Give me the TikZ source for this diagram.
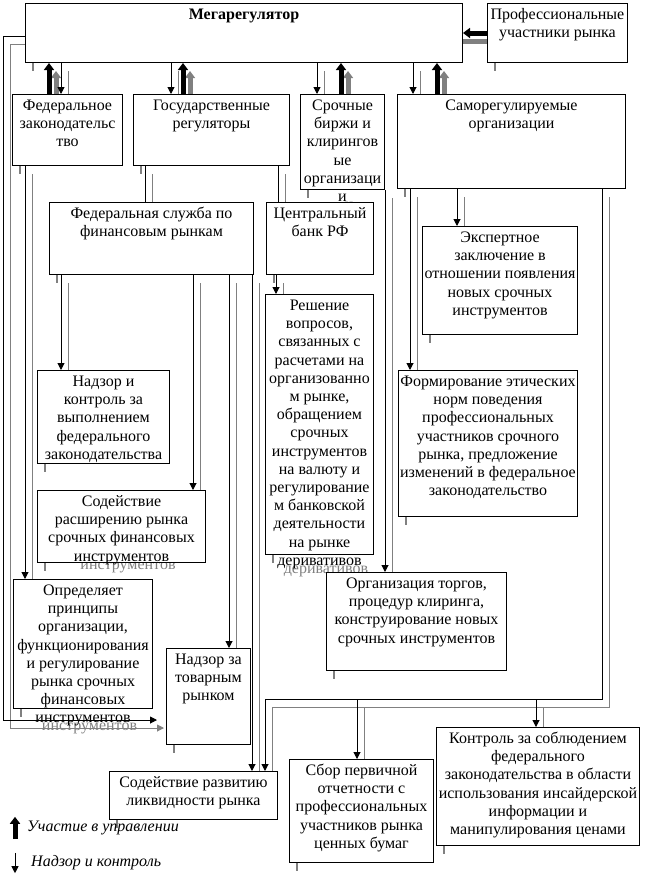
\documentclass[tikz,border=0pt]{standalone}
\usepackage{fontspec}
\setmainfont{Liberation Serif}
\usetikzlibrary{arrows.meta}

\definecolor{shade}{HTML}{808080}

% fixed size text block, top aligned, may run past the bottom edge
\newcommand{\blk}[3]{\parbox[t][#2pt][t]{#1pt}{\centering\rule{0pt}{16pt}#3}}
% same size, no text (for the shadows)
\newcommand{\blkshade}[3]{\parbox[t][#2pt][t]{#1pt}{}}

\tikzset{
  box/.style={draw, fill=white, line width=1pt, inner sep=0pt, anchor=north west,
    font=\fontsize{16}{18.2}\selectfont},
  runover/.style={font=\fontsize{16}{18.2}\selectfont, text=shade, anchor=base, inner sep=0pt},
  ctrl/.style={line width=1pt, -{Triangle[width=7pt,length=7pt]}},
  plain/.style={line width=1pt},
  part/.style={line width=5pt, -{Triangle[width=10pt,length=7pt]}},
  legend/.style={font=\fontsize{16}{18.2}\selectfont\itshape, anchor=west, inner sep=0pt},
  shadowpass/.style={color=shade, transform canvas={shift={(7,8)}},
    box/.append style={fill=shade, draw=shade}}
}

\newcommand{\boxes}{%
  \node[box] (mega) at (25,3) {\blk{437}{59}{\textbf{Мегарегулятор}}};
  \node[box] (prof) at (487,3) {\blk{140}{59}{Профессиональные\\участники рынка}};
  \node[box] (fedzak) at (12,94) {\blk{110}{71}{Федеральное\\законодательс\\тво}};
  \node[box] (gosreg) at (133,94) {\blk{156}{71}{Государственные\\регуляторы}};
  \node[box] (srochn) at (300,94) {\blk{84}{95}{Срочные\\биржи и\\клирингов\\ые\\организаци\\и}};
  \node[box] (samoreg) at (397,94) {\blk{228}{94}{Саморегулируемые\\организации}};
  \node[box] (fsfr) at (49,202) {\blk{204}{72}{Федеральная служба по\\финансовым рынкам}};
  \node[box] (cb) at (266,202) {\blk{107}{72}{Центральный\\банк РФ}};
  \node[box] (expert) at (422,226) {\blk{155}{108}{Экспертное\\заключение в\\отношении появления\\новых срочных\\инструментов}};
  \node[box] (reshen) at (265,294) {\blk{108}{260}{Решение\\вопросов,\\связанных с\\расчетами на\\организованно\\м рынке,\\обращением\\срочных\\инструментов\\на валюту и\\регулирование\\м банковской\\деятельности\\на рынке\\деривативов}};
  \node[box] (nadzor) at (37,370) {\blk{132}{93}{Надзор и\\контроль за\\выполнением\\федерального\\законодательства}};
  \node[box] (formir) at (398,370) {\blk{179}{146}{Формирование этических\\норм поведения\\профессиональных\\участников срочного\\рынка, предложение\\изменений в федеральное\\законодательство}};
  \node[box] (sodrash) at (37,490) {\blk{168}{72}{Содействие\\расширению рынка\\срочных финансовых\\инструментов}};
  \node[box] (org) at (326,572) {\blk{180}{98}{Организация торгов,\\процедур клиринга,\\конструирование новых\\срочных инструментов}};
  \node[box] (opred) at (13,579) {\blk{139}{129}{Определяет\\принципы\\организации,\\функционирования\\и регулирование\\рынка срочных\\финансовых\\инструментов}};
  \node[box] (nadztov) at (166,648) {\blk{84}{96}{Надзор за\\товарным\\рынком}};
  \node[box] (kontrol) at (436,727) {\blk{203}{118}{Контроль за соблюдением\\федерального\\законодательства в области\\использования инсайдерской\\информации и\\манипулирования ценами}};
  \node[box] (sbor) at (289,759) {\blk{144}{103}{Сбор первичной\\отчетности с\\профессиональных\\участников рынка\\ценных бумаг}};
  \node[box] (sodrazv) at (109,771) {\blk{168}{48}{Содействие развитию\\ликвидности рынка}};
}

\newcommand{\wires}{%
  \draw[part] (49,0 |- fedzak.north) -- (49,0 |- mega.south);
  \draw[ctrl] (61,0 |- mega.south) -- (61,0 |- fedzak.north);
  \draw[ctrl] (171,0 |- mega.south) -- (171,0 |- gosreg.north);
  \draw[part] (183,0 |- gosreg.north) -- (183,0 |- mega.south);
  \draw[ctrl] (317,0 |- mega.south) -- (317,0 |- srochn.north);
  \draw[part] (341,0 |- srochn.north) -- (341,0 |- mega.south);
  \draw[ctrl] (413,0 |- mega.south) -- (413,0 |- samoreg.north);
  \draw[part] (437,0 |- samoreg.north) -- (437,0 |- mega.south);
  \draw[part] (prof.west |- 0,33) -- (mega.east |- 0,33);
  \draw[ctrl, shorten >=9pt] (mega.west |- 0,36) -| (3,720) -- (nadztov.west |- 0,720);
  \draw[plain] (145,0 |- gosreg.south) -- (145,0 |- fsfr.north);
  \draw[plain] (278,0 |- gosreg.south) -- (278,0 |- cb.north);
  \draw[ctrl] (25,0 |- fedzak.south) -- (25,0 |- opred.north);
  \draw[ctrl] (61,0 |- fsfr.south) -- (61,0 |- nadzor.north);
  \draw[ctrl] (193,0 |- fsfr.south) -- (193,0 |- sodrash.north);
  \draw[ctrl] (229,0 |- fsfr.south) -- (229,0 |- nadztov.north);
  \draw[ctrl] (252,0 |- fsfr.south) -- (252,0 |- sodrazv.north);
  \draw[ctrl] (276,0 |- cb.south) -- (276,0 |- reshen.north);
  \draw[ctrl] (385,0 |- srochn.south) -- (385,0 |- org.north);
  \draw[ctrl] (410,0 |- samoreg.south) -- (410,0 |- formir.north);
  \draw[ctrl] (457,0 |- samoreg.south) -- (457,0 |- expert.north);
  \draw[ctrl] (602,0 |- samoreg.south) |- (265,0 |- bus) -- (265,0 |- sodrazv.north);
  \draw[ctrl] (357,0 |- bus) -- (357,0 |- sbor.north);
  \draw[ctrl] (536,0 |- bus) -- (536,0 |- kontrol.north);
}

\begin{document}
\begin{tikzpicture}[x=1pt, y=-1pt]
  \useasboundingbox (0,0) rectangle (649,878);
  \coordinate (bus) at (0,699);

  \begin{scope}[shadowpass]
    \let\blk\blkshade
    \boxes
    \wires
  \end{scope}
  % shadows of the words that run out of their boxes
  \node[runover] (shsrochn) at (349,209) {и};
  \node[runover] (shreshen) at (326,573) {деривативов};
  \node[runover] (shsodrash) at (128,569) {инструментов};
  \node[runover] (shopred) at (89.5,730) {инструментов};

  \boxes
  \wires

  \node[legend, minimum height=22pt] (legpart) at (27,828) {Участие в управлении};
  \draw[part] ([xshift=-12pt]legpart.south west) -- ([xshift=-12pt]legpart.north west);
  \node[legend, minimum height=20pt] (legctrl) at (31,863) {Надзор и контроль};
  \draw[ctrl] ([xshift=-16pt]legctrl.north west) -- ([xshift=-16pt]legctrl.south west);
\end{tikzpicture}
\end{document}
